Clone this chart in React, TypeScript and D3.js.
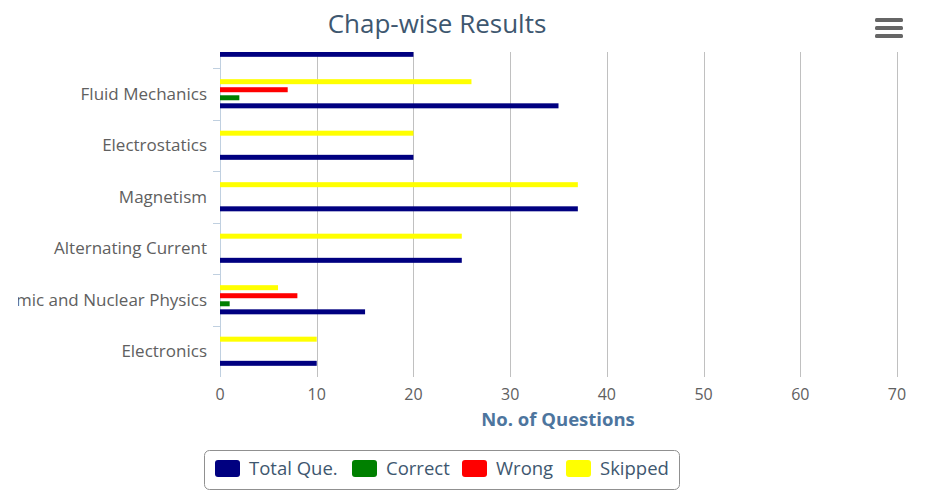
import { useEffect, useRef } from "react"
import * as d3 from "d3"

// chapter rows, top to bottom (the first one is scrolled mostly out of view)
const chapters = [
  "Current Electricity",
  "Fluid Mechanics",
  "Electrostatics",
  "Magnetism",
  "Alternating Current",
  "Atomic and Nuclear Physics",
  "Electronics",
]
const totalQue = [20, 35, 20, 37, 25, 15, 10]
const correct = [0, 2, 0, 0, 0, 1, 0]
const wrong = [0, 7, 0, 0, 0, 8, 0]
const skipped = [20, 26, 20, 37, 25, 6, 10]
const valueTicks = [0, 10, 20, 30, 40, 50, 60, 70]

const seriesNames = ["Total Que.", "Correct", "Wrong", "Skipped"]
const seriesColors = ["#000080", "#008000", "#ff0000", "#ffff00"]
const seriesValues = [totalQue, correct, wrong, skipped]

export default function App() {
  const svgRef = useRef<SVGSVGElement>(null)

  useEffect(() => {
    if (!svgRef.current) return
    document.body.style.margin = "0"

    const font = "'Open Sans', 'Noto Sans', sans-serif"

    const svg = d3.select(svgRef.current)
    svg.selectAll("*").remove()

    // plot area
    const left = 220
    const right = 897
    const top = 52
    const bottom = 377
    const rowH = 51.5
    const firstRowTop = 68 - rowH

    const defs = svg.append("defs")
    defs.append("clipPath").attr("id", "plot-clip")
      .append("rect").attr("x", left - 10).attr("y", top).attr("width", right - left + 20).attr("height", bottom - top)
    defs.append("clipPath").attr("id", "label-clip")
      .append("rect").attr("x", 18).attr("y", top).attr("width", left - 18).attr("height", bottom - top)

    const x = d3.scaleLinear().domain([0, 70]).range([left, right])
    const y = d3
      .scaleBand()
      .domain(chapters)
      .range([firstRowTop, firstRowTop + rowH * chapters.length])

    // inner band for the four series; Skipped on top, Total at bottom
    const inner = d3
      .scaleBand()
      .domain(["Skipped", "Wrong", "Correct", "Total Que."])
      .range([0, y.bandwidth()])
      .paddingOuter(1.2)

    // grid lines
    svg
      .append("g")
      .selectAll("line")
      .data(valueTicks.filter((t) => t > 0))
      .enter()
      .append("line")
      .attr("x1", (d) => Math.round(x(d)) + 0.5)
      .attr("x2", (d) => Math.round(x(d)) + 0.5)
      .attr("y1", top)
      .attr("y2", bottom)
      .attr("stroke", "#c0c0c0")
      .attr("stroke-width", 1)

    // category axis line and ticks
    svg.append("line")
      .attr("x1", left + 0.5).attr("x2", left + 0.5).attr("y1", top).attr("y2", bottom)
      .attr("stroke", "#c0d0e0")
    const catTicks = d3.range(chapters.length + 1).map((i) => firstRowTop + i * rowH)
    svg
      .append("g")
      .attr("clip-path", "url(#plot-clip)")
      .selectAll("line")
      .data(catTicks)
      .enter()
      .append("line")
      .attr("x1", left - 7)
      .attr("x2", left)
      .attr("y1", (d) => Math.round(d) + 0.5)
      .attr("y2", (d) => Math.round(d) + 0.5)
      .attr("stroke", "#c0d0e0")

    // bars
    const bars = svg.append("g").attr("clip-path", "url(#plot-clip)")
    seriesNames.forEach((name, si) => {
      bars
        .append("g")
        .selectAll("rect")
        .data(chapters.map((c, i) => ({ c, v: seriesValues[si][i] })).filter((d) => d.v > 0))
        .enter()
        .append("rect")
        .attr("x", x(0))
        .attr("y", (d) => (y(d.c) as number) + (inner(name) as number) + (inner.bandwidth() - 5) / 2)
        .attr("width", (d) => x(d.v) - x(0))
        .attr("height", 5)
        .attr("fill", seriesColors[si])
    })

    // category labels
    svg
      .append("g")
      .attr("clip-path", "url(#label-clip)")
      .selectAll("text")
      .data(chapters)
      .enter()
      .append("text")
      .attr("x", 207)
      .attr("y", (d) => (y(d) as number) + y.bandwidth() / 2)
      .attr("dy", "0.35em")
      .attr("text-anchor", "end")
      .attr("font-family", font)
      .attr("font-size", 17)
      .attr("fill", "#606060")
      .text((d) => d)

    // value tick labels
    svg
      .append("g")
      .selectAll("text")
      .data(valueTicks)
      .enter()
      .append("text")
      .attr("x", (d) => x(d))
      .attr("y", 400)
      .attr("text-anchor", "middle")
      .attr("font-family", font)
      .attr("font-size", 16)
      .attr("fill", "#606060")
      .text((d) => d)

    // axis title
    svg.append("text")
      .attr("x", 558).attr("y", 426)
      .attr("text-anchor", "middle")
      .attr("font-family", font).attr("font-size", 18.5).attr("font-weight", "bold")
      .attr("fill", "#4d759e")
      .text("No. of Questions")

    // title
    svg.append("text")
      .attr("x", 437).attr("y", 33)
      .attr("text-anchor", "middle")
      .attr("font-family", font).attr("font-size", 26)
      .attr("fill", "#3e576f")
      .text("Chap-wise Results")

    // export menu icon
    svg
      .append("g")
      .selectAll("rect")
      .data([0, 1, 2])
      .enter()
      .append("rect")
      .attr("x", 875)
      .attr("y", (d) => 18 + d * 8)
      .attr("width", 28)
      .attr("height", 4)
      .attr("rx", 1.5)
      .attr("fill", "#666666")

    // legend
    const legend = svg.append("g")
    legend.append("rect")
      .attr("x", 204.5).attr("y", 450.5).attr("width", 475).attr("height", 39)
      .attr("rx", 5).attr("fill", "#ffffff").attr("stroke", "#909090")
    const itemX = [215, 352, 462, 566]
    seriesNames.forEach((name, i) => {
      legend.append("rect")
        .attr("x", itemX[i]).attr("y", 460).attr("width", 25).attr("height", 17)
        .attr("rx", 3).attr("fill", seriesColors[i])
      legend.append("text")
        .attr("x", itemX[i] + 34).attr("y", 475)
        .attr("font-family", font).attr("font-size", 18.5)
        .attr("fill", "#3e576f")
        .text(name)
    })
  }, [])

  return (
    <svg
      ref={svgRef}
      width={940}
      height={498}
      style={{ position: "absolute", left: 0, top: 0, background: "#ffffff" }}
    ></svg>
  )
}
